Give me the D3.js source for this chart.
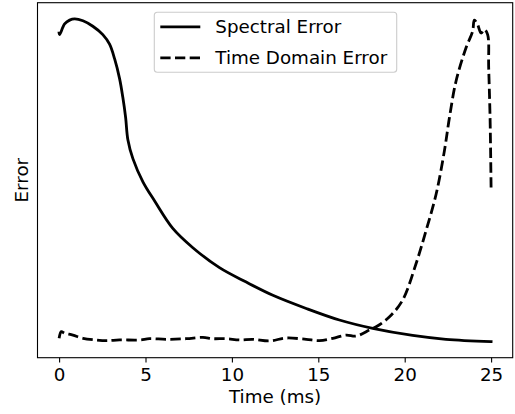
<!DOCTYPE html>
<html>
<head>
<meta charset="utf-8">
<script src="https://cdn.jsdelivr.net/npm/d3@7"></script>
<style>
  body { margin: 0; background: #fff; }
  text { font-family: "DejaVu Sans", sans-serif; }
</style>
</head>
<body>
<div id="chart"></div>
<script>
// time axis (ms)
var specTime = [0.0, 0.03, 0.32, 0.61, 0.90, 1.38, 1.95, 2.53, 2.92, 3.21, 3.50, 3.69, 3.85, 3.98, 4.27,
    4.85, 5.52, 6.58, 7.74, 9.28, 10.83, 12.37, 14.30, 16.22, 18.15, 20.46, 22.39, 25.0];
var specErr = [0.960, 0.955, 0.988, 1.0, 1.004, 0.998, 0.981, 0.955, 0.925, 0.880, 0.818, 0.759, 0.697, 0.628, 0.569,
    0.497, 0.438, 0.352, 0.292, 0.230, 0.185, 0.144, 0.103, 0.067, 0.041, 0.019, 0.007, 0.0];

var timeTime = [0.0, 0.13, 0.32, 0.80, 1.38, 2.15, 2.73, 3.50, 4.66, 5.23, 6.20, 7.36, 8.32, 8.90, 9.67,
    10.44, 11.21, 12.17, 13.14, 14.30, 15.07, 15.84, 16.61, 17.19, 17.96, 18.35, 19.12, 19.88, 20.66,
    21.24, 21.82, 22.30, 22.59, 22.97, 23.55, 23.93, 24.03, 24.22, 24.42, 24.61, 24.80, 24.86, 24.94, 25.0];
var timeErr = [0.010, 0.031, 0.026, 0.020, 0.010, 0.005, 0.003, 0.005, 0.005, 0.009, 0.007, 0.009, 0.013, 0.009, 0.009,
    0.005, 0.007, 0.002, 0.011, 0.007, 0.003, 0.010, 0.020, 0.017, 0.036, 0.046, 0.077, 0.129, 0.243,
    0.346, 0.459, 0.594, 0.697, 0.810, 0.914, 0.965, 1.0, 0.986, 0.960, 0.971, 0.955, 0.852, 0.697, 0.475];

var xTicks = [0, 5, 10, 15, 20, 25];
var seriesNames = ["Spectral Error", "Time Domain Error"];

var fontSize = "18.3px";

// dimensions and margins of the graph
var margin = { top: 2.7, right: 2.3, bottom: 56.3, left: 37.5 },
    width = 515 - margin.left - margin.right,
    height = 414 - margin.top - margin.bottom;

var svg = d3.select("#chart")
    .append("svg")
    .attr("width", 515)
    .attr("height", 414)
    .append("g")
    .attr("transform", "translate(" + margin.left + "," + margin.top + ")");

// matplotlib style 5% padding
var xMin = 0, xMax = 25;
var allY = specErr.concat(timeErr);
var yMin = d3.min(allY), yMax = d3.max(allY);
var xPad = (xMax - xMin) * 0.05, yPad = (yMax - yMin) * 0.05;

var x = d3.scaleLinear().domain([xMin - xPad, xMax + xPad]).range([0, width]);
var y = d3.scaleLinear().domain([yMin - yPad, yMax + yPad]).range([height, 0]);

var line = d3.line()
    .x(function (d) { return x(d[0]); })
    .y(function (d) { return y(d[1]); })
    .curve(d3.curveCatmullRom.alpha(0.5));

svg.append("path")
    .datum(d3.zip(specTime, specErr))
    .attr("d", line)
    .attr("fill", "none")
    .attr("stroke", "black")
    .attr("stroke-width", 2.8)
    .attr("stroke-linecap", "square");

svg.append("path")
    .datum(d3.zip(timeTime, timeErr))
    .attr("d", line)
    .attr("fill", "none")
    .attr("stroke", "black")
    .attr("stroke-width", 2.8)
    .attr("stroke-dasharray", "10.3,4.4");

// frame
svg.append("rect")
    .attr("width", width)
    .attr("height", height)
    .attr("fill", "none")
    .attr("stroke", "black")
    .attr("stroke-width", 1.1);

// X axis
var xAxis = svg.append("g")
    .attr("transform", "translate(0," + height + ")")
    .call(d3.axisBottom(x).tickValues(xTicks).tickSize(4.9).tickPadding(5.4).tickFormat(d3.format("d")));
xAxis.select(".domain").remove();
xAxis.selectAll("line").attr("stroke-width", 1.1);
xAxis.selectAll("text").attr("font-size", fontSize).attr("font-family", "DejaVu Sans").attr("fill", "black");

// labels
svg.append("text")
    .attr("x", width / 2)
    .attr("y", height + 45)
    .attr("text-anchor", "middle")
    .attr("font-size", fontSize)
    .text("Time (ms)");

svg.append("text")
    .attr("transform", "translate(" + (-10) + "," + (height / 2) + ") rotate(-90)")
    .attr("text-anchor", "middle")
    .attr("font-size", fontSize)
    .text("Error");

// legend
var lg = svg.append("g").attr("transform", "translate(" + (154.3 - margin.left) + "," + (12.3 - margin.top) + ")");
lg.append("rect")
    .attr("width", 242.4)
    .attr("height", 60)
    .attr("rx", 3)
    .attr("fill", "white")
    .attr("fill-opacity", 0.8)
    .attr("stroke", "#cccccc")
    .attr("stroke-width", 1.1);

var rowY = [14.5, 45.5];
seriesNames.forEach(function (name, i) {
    lg.append("line")
        .attr("x1", 6).attr("x2", 46)
        .attr("y1", rowY[i]).attr("y2", rowY[i])
        .attr("stroke", "black")
        .attr("stroke-width", 2.8)
        .attr("stroke-dasharray", i === 1 ? "10.3,4.4" : null);
    lg.append("text")
        .attr("x", 61)
        .attr("y", rowY[i])
        .attr("dy", "0.35em")
        .attr("font-size", fontSize)
        .text(name);
});
</script>
</body>
</html>
